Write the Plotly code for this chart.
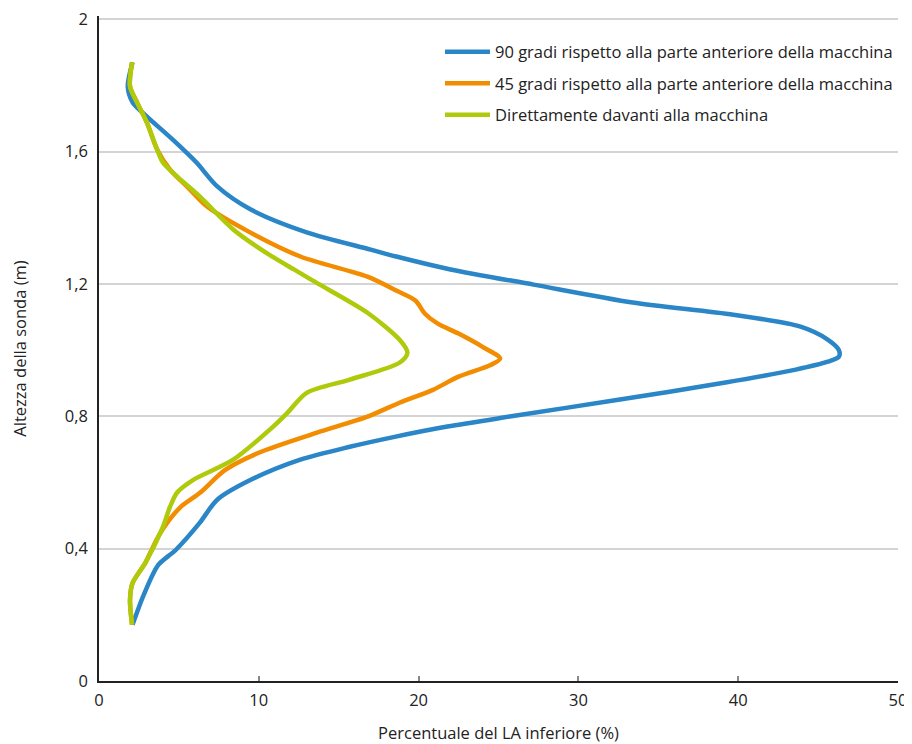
import plotly.graph_objects as go

# Heights (m) and percentages (%)
y_90 = [0.17, 0.26, 0.35, 0.396, 0.478, 0.548, 0.608, 0.669, 0.708, 0.738, 0.769, 0.80, 0.850, 0.902, 0.941,
        0.965, 0.980, 1.000, 1.032, 1.071, 1.107, 1.144, 1.198, 1.244, 1.283, 1.304, 1.356, 1.425, 1.495, 1.567,
        1.637, 1.706, 1.749, 1.797, 1.87]
x_90 = [2.1, 2.8, 3.7, 4.8, 6.3, 7.4, 9.5, 12.6, 15.7, 18.5, 21.8, 25.8, 32.5, 39.2, 43.6,
        45.6, 46.3, 46.3, 45.6, 43.9, 39.7, 33.4, 27.2, 22.0, 18.6, 17.0, 13.0, 9.5, 7.4, 6.1,
        4.6, 3.0, 2.1, 1.8, 2.1]

y_45 = [0.17, 0.245, 0.296, 0.357, 0.387, 0.436, 0.487, 0.53, 0.569, 0.638, 0.690, 0.750, 0.799, 0.841, 0.880,
        0.92, 0.955, 0.975, 1.01, 1.05, 1.08, 1.11, 1.15, 1.18, 1.222, 1.283, 1.356, 1.434, 1.49, 1.546,
        1.607, 1.688, 1.749, 1.797, 1.87]
x_45 = [2.07, 1.94, 2.1, 2.9, 3.2, 3.7, 4.4, 5.2, 6.32, 7.9, 10.0, 13.6, 16.8, 18.8, 20.9,
        22.5, 24.5, 25.1, 24.0, 22.5, 21.2, 20.4, 19.8, 18.6, 16.8, 12.6, 9.45, 6.76, 5.6, 4.44,
        3.63, 3.0, 2.38, 1.94, 2.07]

y_dir = [0.17, 0.245, 0.296, 0.357, 0.466, 0.526, 0.569, 0.608, 0.669, 0.769, 0.811, 0.871, 0.911, 0.962, 0.992,
         1.032, 1.113, 1.204, 1.244, 1.290, 1.365, 1.464, 1.525, 1.567, 1.607, 1.688, 1.749, 1.797, 1.87]
x_dir = [2.07, 1.94, 2.1, 2.9, 4.0, 4.44, 4.88, 5.9, 8.4, 10.9, 11.8, 13.0, 15.7, 18.8, 19.3,
         18.8, 16.8, 13.6, 12.2, 10.6, 8.4, 6.32, 4.88, 4.0, 3.63, 3.0, 2.38, 1.94, 2.07]

x_ticks = [0, 10, 20, 30, 40, 50]
y_ticks = [0, 0.4, 0.8, 1.2, 1.6, 2]

names = ["90 gradi rispetto alla parte anteriore della macchina",
         "45 gradi rispetto alla parte anteriore della macchina",
         "Direttamente davanti alla macchina"]
colors = ["#2B86C8", "#F28C00", "#AFCA0B"]

fig = go.Figure()
for i, (xs, ys, n, c) in enumerate([(x_90, y_90, names[0], colors[0]),
                                    (x_45, y_45, names[1], colors[1]),
                                    (x_dir, y_dir, names[2], colors[2])]):
    fig.add_trace(go.Scatter(x=xs, y=ys, mode="lines", name=n, legendgroup=f"g{i}",
                             line=dict(color=c, width=4.5, shape="spline", smoothing=0.8)))

font_family = "Open Sans, Noto Sans, sans-serif"
# page body has an 8px margin, so the figure is sized to fit the 912x744 window
fig.update_layout(
    width=904, height=736,
    margin=dict(l=91, r=14, t=8, b=63),
    paper_bgcolor="white", plot_bgcolor="white",
    separators=", ",
    font=dict(family=font_family, size=16.5, color="#222222"),
    showlegend=True,
    legend=dict(x=1.0, xanchor="right", y=0.972, yanchor="top",
                bgcolor="rgba(0,0,0,0)", font=dict(size=16.5, color="#222222"),
                tracegroupgap=7, itemwidth=45),
    xaxis=dict(range=[0, 50], tickvals=x_ticks,
               showgrid=False, zeroline=False, automargin=False,
               showline=True, linecolor="#222222", linewidth=1.5,
               ticks="inside", ticklen=5, tickcolor="#888888", tickwidth=1.5,
               tickfont=dict(size=16.5), ticklabelstandoff=3, ticklabeloverflow="allow",
               title=dict(text="Percentuale del LA inferiore (%)", font=dict(size=16.5), standoff=18)),
    yaxis=dict(range=[0, 2.01], tickvals=y_ticks,
               showgrid=True, gridcolor="#d4d4d4", gridwidth=1.5, automargin=False,
               zeroline=False, showline=True, linecolor="#222222", linewidth=1.5,
               ticks="", tickfont=dict(size=16.5), ticklabelstandoff=6, ticklabeloverflow="allow",
               title=dict(text="Altezza della sonda (m)", font=dict(size=16.5), standoff=37)),
)

fig.write_html("out.html")
